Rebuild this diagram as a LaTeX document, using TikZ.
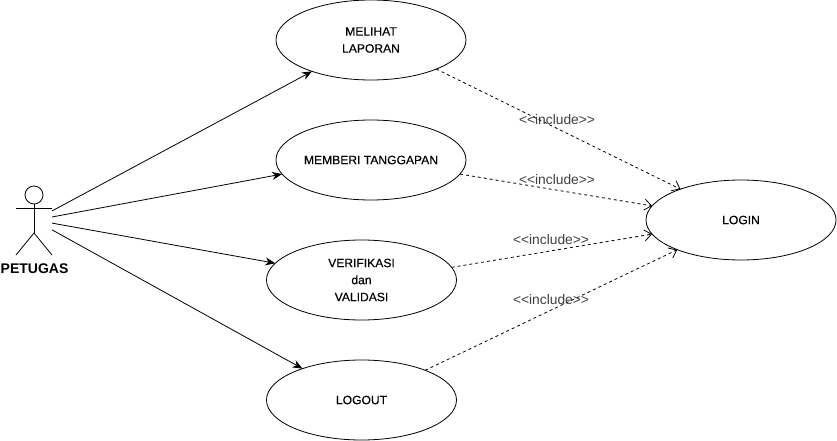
\documentclass[tikz,border=0pt]{standalone}
\usepackage{fontspec}
\setmainfont{Liberation Sans}
\newfontfamily\casefont[FakeBold=0.25]{Liberation Sans}
\usetikzlibrary{arrows.meta,shapes.geometric}
\begin{document}
\begin{tikzpicture}[
	x=1pt, y=-1pt,
	usecase/.style = {draw, ellipse, line width=0.8pt, minimum width=190pt, minimum height=80pt, inner sep=0pt, outer sep=0pt, align=center, font=\casefont\fontsize{12.1}{17}\selectfont},
	textdown/.style = {execute at begin node=\rule{0pt}{#1}},
	limb/.style = {draw, line width=0.8pt},
	assoc/.style = {->, line width=0.8pt, >={Stealth[length=10pt,width=8pt]}},
	incl/.style = {->, line width=0.8pt, dash pattern=on 3pt off 3pt, >={Straight Barb[length=7pt,width=11pt]}},
	incltext/.style = {text=black!75, inner sep=0pt, font=\fontsize{13.8}{16}\selectfont}]
	
	\useasboundingbox (0,0) rectangle (837,441);
	
	\node[usecase, textdown=15pt] (lap) at (371,40) {MELIHAT\\LAPORAN};
	\node[usecase] (tgp) at (371,160) {MEMBERI TANGGAPAN};
	\node[usecase, textdown=12pt] (ver) at (361.5,280) {VERIFIKASI\\dan\\VALIDASI};
	\node[usecase] (out) at (361.5,400) {LOGOUT};
	\node[usecase] (login) at (741,220) {LOGIN};
	
	% actor
	\node[minimum width=36pt, minimum height=60pt, inner sep=0pt, outer sep=0pt] (actor) at (34,225) {};
	\node[draw, circle, line width=0.8pt, minimum size=18pt, inner sep=0pt, outer sep=0pt] (head) at (34,195) {};
	\coordinate (hip) at (34,233);
	\draw[limb] (head.south) -- (hip);
	\draw[limb] (actor.west |- 0,208) -- (actor.east |- 0,208);
	\draw[limb] (actor.south west) -- (hip) -- (actor.south east);
	\node[inner sep=0pt, font=\fontsize{14}{16}\selectfont\bfseries] (nama) at (34.5,269) {PETUGAS};
	
	\draw[assoc] (actor.38) -- (lap.208.9);
	\draw[assoc] (actor.24) -- (tgp.189.7);
	\draw[assoc] (actor.6) -- (ver.169.8);
	\draw[assoc] (actor.-15) -- (out.152.5);
	
	\draw[incl] (lap.-24.4) -- (login.153.8);
	\draw[incl] (tgp.-9.6) -- (login.171);
	\draw[incl] (ver.8.9) -- (login.189);
	\draw[incl] (out.25.7) -- (login.205.5);
	
	\node[incltext] (i1) at (557,120) {<{}<include>{}>};
	\node[incltext] (i2) at (557,180) {<{}<include>{}>};
	\node[incltext] (i3) at (551,240) {<{}<include>{}>};
	\node[incltext] (i4) at (551,300) {<{}<include>{}>};
\end{tikzpicture}
\end{document}
